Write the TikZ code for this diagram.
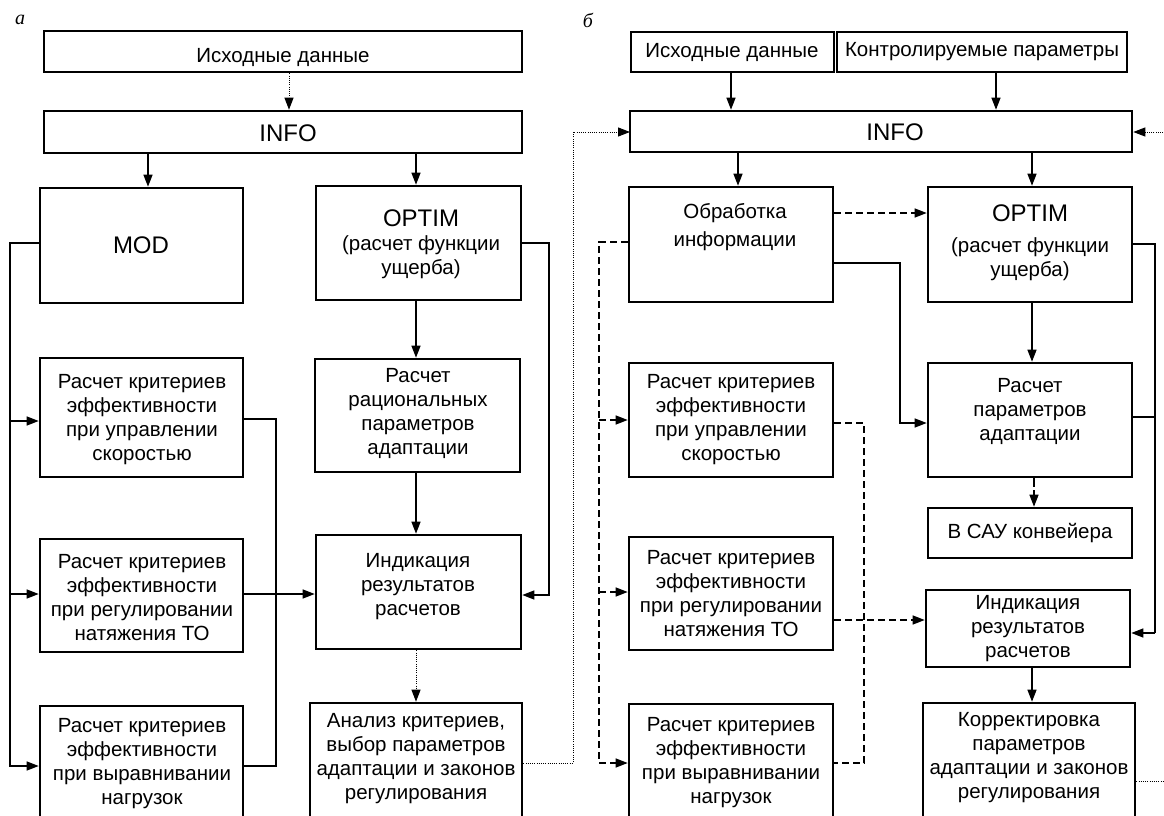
\documentclass[tikz,border=0pt]{standalone}
\usepackage{fontspec}
\setmainfont{Liberation Sans}
\newfontfamily\lblfont{Liberation Serif}
\usetikzlibrary{arrows.meta,calc}
\tikzset{
  box/.style={draw, line width=2.6pt, inner sep=0pt},
  txt/.style={align=center, font=\fontsize{20.5}{24}\selectfont, inner sep=0pt},
  big/.style={font=\fontsize{24}{27}\selectfont},
  conn/.style={line width=1.3pt},
  arr/.style={conn, -{Triangle[length=12pt,width=9pt]}},
  dsh/.style={dash pattern=on 7pt off 4pt},
  dot/.style={line width=1pt, dash pattern=on 1pt off 1.2pt},
  lbl/.style={font=\lblfont\itshape\fontsize{20}{20}\selectfont, inner sep=0pt},
}
\begin{document}
\begin{tikzpicture}[x=1pt,y=-1pt]
\useasboundingbox (0,0) rectangle (1164,816);
\clip (0,0) rectangle (1164,816);
\fill[white] (0,0) rectangle (1164,816);

% ---------- panel a ----------
\node[lbl] (la) at (20,20) {а};
\node[box, minimum width=478pt, minimum height=41pt] (isxA) at (283,51.5) {};
\node[txt] (isxAt) at (283,57) {Исходные данные};
\node[box, minimum width=478pt, minimum height=42pt] (infoA) at (283,132) {};
\node[txt,big] (infoAt) at (288,133) {INFO};
\node[box, minimum width=203pt, minimum height=115pt] (modA) at (141.5,245.5) {};
\node[txt,big] (modAt) at (141,245) {MOD};
\node[box, minimum width=205pt, minimum height=114pt] (optA) at (418.5,243) {};
\node[txt,big] (optAt1) at (421,218) {OPTIM};
\node[txt] (optAt2) at (421,257) {(расчет функции\\ущерба)};
\node[box, minimum width=203pt, minimum height=119pt] (crit1A) at (141.5,417.5) {};
\node[txt] (crit1At) at (142,420) {Расчет критериев\\эффективности\\при управлении\\скоростью};
\node[box, minimum width=205pt, minimum height=113pt] (ratA) at (417.5,415.5) {};
\node[txt] (ratAt) at (418,413) {Расчет\\рациональных\\параметров\\адаптации};
\node[box, minimum width=203pt, minimum height=113pt] (crit2A) at (141.5,595.5) {};
\node[txt] (crit2At) at (142,598) {Расчет критериев\\эффективности\\при регулировании\\натяжения ТО};
\node[box, minimum width=205pt, minimum height=114pt] (indA) at (418.5,592) {};
\node[txt] (indAt) at (418,587) {Индикация\\результатов\\расчетов};
\node[box, minimum width=203pt, minimum height=124pt] (crit3A) at (141.5,768) {};
\node[txt] (crit3At) at (142,764) {Расчет критериев\\эффективности\\при выравнивании\\нагрузок};
\node[box, minimum width=212pt, minimum height=127pt] (anA) at (416,766.5) {};
\node[txt] (anAt) at (416,759) {Анализ критериев,\\выбор параметров\\адаптации и законов\\регулирования};

% connectors a
\draw[arr,dot] ([xshift=6pt]isxA.south) -- ([xshift=6pt]infoA.north);
\draw[arr] ([xshift=6.5pt]modA.north |- infoA.south) -- ([xshift=6.5pt]modA.north);
\draw[arr] ([xshift=-2.5pt]optA.north |- infoA.south) -- ([xshift=-2.5pt]optA.north);
\draw[arr] ([xshift=-2.5pt]optA.south) -- ([xshift=-2.5pt]optA.south |- ratA.north);
\draw[arr] ([xshift=-2.5pt]optA.south |- ratA.south) -- ([xshift=-2.5pt]optA.south |- indA.north);
\draw[arr,dot] ([xshift=-2.5pt]optA.south |- indA.south) -- ([xshift=-2.5pt]optA.south |- anA.north);
\coordinate (busA) at (10,766);
\draw[arr] (modA.west |- 0,243) -| (busA) -- (crit3A.west |- busA);
\draw[arr] (10,421) -- (crit1A.west |- 0,421);
\draw[arr] (10,594) -- (crit2A.west |- 0,594);
\draw[conn] (crit1A.east |- 0,419) -| (276,766) -- (crit3A.east |- 0,766);
\draw[arr] (crit2A.east |- 0,594) -- (indA.west |- 0,594);
\draw[arr] (optA.east |- 0,243) -| (549,595) -- (indA.east |- 0,595);
\draw[arr,dot] (anA.east |- 0,763) -| (573,132) -- (630,132);

% ---------- panel b ----------
\node[lbl] (lb) at (588,20) {б};
\node[box, minimum width=203pt, minimum height=40pt] (isxB) at (732.5,52) {};
\node[txt] (isxBt) at (732,52) {Исходные данные};
\node[box, minimum width=290pt, minimum height=40pt] (kontB) at (982,52) {};
\node[txt] (kontBt) at (982,52) {Контролируемые параметры};
\node[box, minimum width=502pt, minimum height=41pt] (infoB) at (881,131.5) {};
\node[txt,big] (infoBt) at (895,132) {INFO};
\node[box, minimum width=204pt, minimum height=115pt] (obrB) at (731,244.5) {};
\node[txt] (obrBt) at (735,227) {Обработка\\[4pt]информации};
\node[box, minimum width=204pt, minimum height=115pt] (optB) at (1030,244.5) {};
\node[txt,big] (optBt1) at (1030,213) {OPTIM};
\node[txt] (optBt2) at (1030,259) {(расчет функции\\ущерба)};
\node[box, minimum width=204pt, minimum height=114pt] (crit1B) at (731,420) {};
\node[txt] (crit1Bt) at (731,420) {Расчет критериев\\эффективности\\при управлении\\скоростью};
\node[box, minimum width=204pt, minimum height=114pt] (rasB) at (1030,420) {};
\node[txt] (rasBt) at (1030,411) {Расчет\\параметров\\адаптации};
\node[box, minimum width=204pt, minimum height=50pt] (sauB) at (1030,533) {};
\node[txt] (sauBt) at (1030,533) {В САУ конвейера};
\node[box, minimum width=204pt, minimum height=113pt] (crit2B) at (731,593.5) {};
\node[txt] (crit2Bt) at (731,594) {Расчет критериев\\эффективности\\при регулировании\\натяжения ТО};
\node[box, minimum width=204pt, minimum height=77pt] (indB) at (1028,628.5) {};
\node[txt] (indBt) at (1028,629) {Индикация\\результатов\\расчетов};
\node[box, minimum width=204pt, minimum height=126pt] (crit3B) at (731,767) {};
\node[txt] (crit3Bt) at (731,763) {Расчет критериев\\эффективности\\при выравнивании\\нагрузок};
\node[box, minimum width=212pt, minimum height=127pt] (korB) at (1029,766.5) {};
\node[txt] (korBt) at (1029,758) {Корректировка\\параметров\\адаптации и законов\\регулирования};

% connectors b
\draw[arr] ([xshift=-1.5pt]isxB.south) -- ([xshift=-1.5pt]isxB.south |- infoB.north);
\draw[arr] ([xshift=14pt]kontB.south) -- ([xshift=14pt]kontB.south |- infoB.north);
\draw[arr] ([xshift=7pt]obrB.north |- infoB.south) -- ([xshift=7pt]obrB.north);
\draw[arr] ([xshift=2pt]optB.north |- infoB.south) -- ([xshift=2pt]optB.north);
\draw[arr,dsh] (obrB.east |- 0,213) -- (optB.west |- 0,213);
\draw[arr] (obrB.east |- 0,263) -| (900,423) -- (rasB.west |- 0,423);
\coordinate (busB) at (599,763);
\draw[arr,dsh] (obrB.west |- 0,242) -| (busB) -- (crit3B.west |- busB);
\draw[arr,dsh] (599,420) -- (crit1B.west |- 0,420);
\draw[arr,dsh] (599,592) -- (crit2B.west |- 0,592);
\draw[conn,dsh] (crit1B.east |- 0,423) -| (864,763) -- (crit3B.east |- 0,763);
\draw[arr,dsh] (crit2B.east |- 0,620) -- (indB.west |- 0,620);
\draw[arr] ([xshift=2pt]optB.south) -- ([xshift=2pt]optB.south |- rasB.north);
\draw[arr,dash pattern=on 9pt off 3pt] ([xshift=4pt]rasB.south) -- ([xshift=4pt]rasB.south |- sauB.north);
\draw[conn] (optB.east |- 0,244) -| (1155,633);
\draw[conn] (rasB.east |- 0,417) -- (1155,417);
\draw[arr] (1155,633) -- (indB.east |- 0,633);
\draw[arr] ([xshift=4pt]indB.south) -- ([xshift=4pt]indB.south |- korB.north);
\draw[arr,dot] (korB.east |- 0,781) -| (1175,132) -- (infoB.east |- 0,132);
\end{tikzpicture}
\end{document}
